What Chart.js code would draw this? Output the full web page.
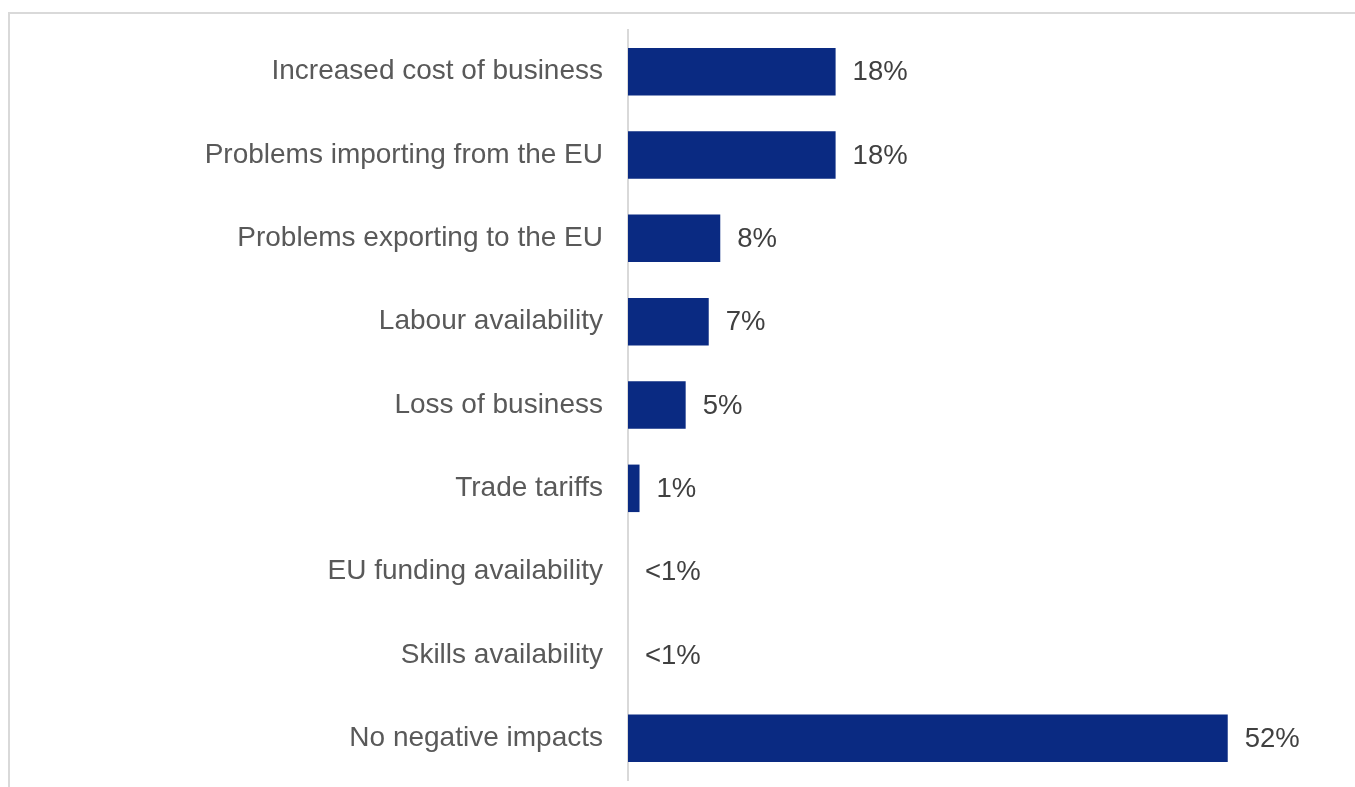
<!DOCTYPE html>
<html>
<head>
<meta charset="utf-8">
<script src="https://cdn.jsdelivr.net/npm/chart.js@4"></script>
<style>
  html, body { margin: 0; padding: 0; background: #fff; overflow: hidden; }
  #frame {
    position: absolute; left: 8px; top: 12px; width: 1500px; height: 900px;
    border-top: 2px solid #d9d9d9; border-left: 2px solid #d9d9d9;
  }
  #wrap { position: absolute; left: 0; top: 0; width: 1355px; height: 787px; }
</style>
</head>
<body>
<div id="frame"></div>
<div id="wrap"><canvas id="impacts"></canvas></div>
<script>
// Survey answers, shares in percent
const categories = [
    'Increased cost of business',
    'Problems importing from the EU',
    'Problems exporting to the EU',
    'Labour availability',
    'Loss of business',
    'Trade tariffs',
    'EU funding availability',
    'Skills availability',
    'No negative impacts'
];
const shares = [18, 18, 8, 7, 5, 1, 0, 0, 52];
const shareLabels = ['18%', '18%', '8%', '7%', '5%', '1%', '<1%', '<1%', '52%'];

const fontFamily = '"Liberation Sans", Arial, sans-serif';

// writes the percentage just past the end of each bar
const valueLabels = {
    id: 'valueLabels',
    afterDatasetsDraw(chart) {
        const ctx = chart.ctx;
        const meta = chart.getDatasetMeta(0);
        ctx.save();
        ctx.font = '27.5px ' + fontFamily;
        ctx.fillStyle = '#404040';
        ctx.textAlign = 'left';
        ctx.textBaseline = 'middle';
        meta.data.forEach((bar, i) => {
            ctx.fillText(shareLabels[i], bar.x + 17, bar.y + 1);
        });
        ctx.restore();
    }
};

new Chart(document.getElementById('impacts'), {
    type: 'bar',
    data: {
        labels: categories,
        datasets: [{
            data: shares,
            backgroundColor: '#0a2a82',
            borderWidth: 0,
            categoryPercentage: 1,
            barPercentage: 0.57
        }]
    },
    options: {
        indexAxis: 'y',
        responsive: true,
        maintainAspectRatio: false,
        animation: false,
        layout: { padding: { left: 0, right: 35, top: 30, bottom: 7 } },
        plugins: {
            legend: { display: false },
            tooltip: { enabled: false }
        },
        scales: {
            x: {
                display: false,
                min: 0,
                max: 60
            },
            y: {
                grid: { display: false, drawTicks: false },
                border: { display: true, color: '#d9d9d9', width: 2 },
                ticks: {
                    color: '#595959',
                    padding: 25,
                    font: { family: fontFamily, size: 28 }
                },
                afterFit(scale) {
                    scale.width = 628;
                    scale.paddingTop = 0;
                    scale.paddingBottom = 0;
                }
            }
        }
    },
    plugins: [valueLabels]
});
</script>
</body>
</html>
